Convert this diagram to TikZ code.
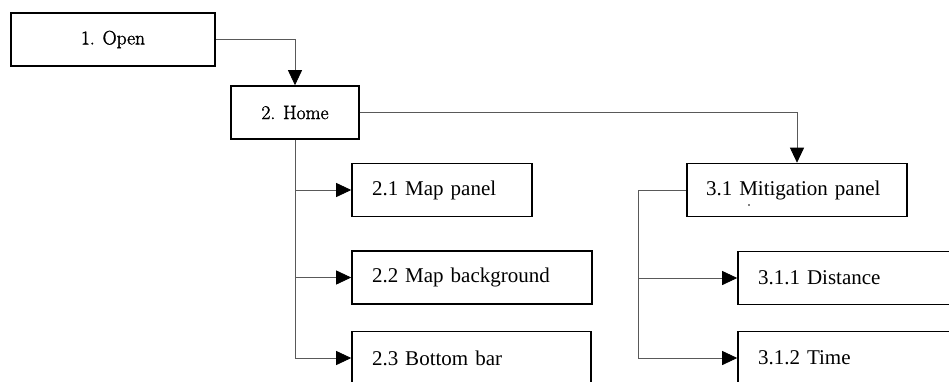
\documentclass[tikz,border=0pt]{standalone}
\usepackage{fontspec}
\newfontfamily\tnrfont{Liberation Serif}
\newfontfamily\cmbfont{Latin Modern Roman}[FakeBold=1.6]
\usetikzlibrary{arrows.meta}

\begin{document}
\begin{tikzpicture}[x=1pt,y=-1pt,
  screen/.style={rectangle,draw,line width=1.6pt,inner sep=0pt,minimum height=53pt},
  cmb/.style={font=\cmbfont\fontsize{19.5}{23}\selectfont},
  tnr/.style={font=\tnrfont\fontsize{21}{25}\selectfont,align=left,inner xsep=20pt},
  link/.style={draw=black!65,line width=0.8pt,-{Triangle[length=15pt,width=14pt,color=black]}}]
  \clip (0,0) rectangle (949,381);
  \node[screen,cmb,minimum width=204pt] (open) at (113,39.5) {1. Open};
  \node[screen,cmb,minimum width=128pt] (home) at (295,112.5) {2. Home};
  \node[screen,tnr,text width=140pt] (mappanel) at (442,190) {2.1 Map panel};
  \node[screen,tnr,text width=200pt] (mapbg) at (472,277.5) {2.2 Map background};
  \node[screen,tnr,text width=199pt] (bottombar) at (471.5,358) {2.3 Bottom bar};
  \node[screen,tnr,inner xsep=19pt,text width=182pt] (mitigation) at (797,190) {3.1 Mitigation panel};
  \node[screen,tnr,text width=222pt] (distance) at (869,278) {3.1.1 Distance};
  \node[screen,tnr,text width=222pt] (time) at (869,358) {3.1.2 Time};
  \fill (749,205) circle (0.9pt);

  \draw[link] (open) -| (home);
  \draw[link] (home) -| (mitigation);
  \draw[link] (home.south) |- (mappanel.west);
  \draw[link] (home.south) |- (mapbg.west);
  \draw[link] (home.south) |- (bottombar.west);
  \draw[link] (mitigation.west) -- ++(-48,0) |- (distance.west);
  \draw[link] (mitigation.west) -- ++(-48,0) |- (time.west);
\end{tikzpicture}
\end{document}
